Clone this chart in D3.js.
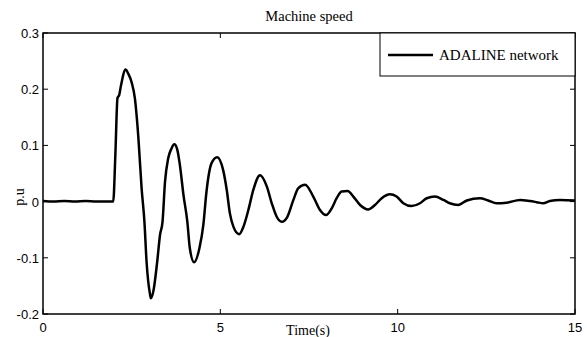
<!DOCTYPE html>
<html>
<head>
<meta charset="utf-8">
<script src="https://cdn.jsdelivr.net/npm/d3@7"></script>
<style>
  body { margin: 0; background: #fff; }
  svg text { fill: #000; }
</style>
</head>
<body>
<div id="chart-area"></div>
<script>
// Data
var timeValues = [0, 0.3, 0.6, 0.9, 1.2, 1.5, 1.8, 1.98, 2.04, 2.1, 2.15, 2.2, 2.33, 2.4, 2.5, 2.59, 2.69, 2.78, 2.86, 2.92, 3.02, 3.04, 3.11, 3.22, 3.3, 3.37, 3.44, 3.53, 3.62, 3.7, 3.78, 3.86, 3.96, 4.07, 4.14, 4.26, 4.41, 4.52, 4.61, 4.75, 4.91, 5.08, 5.18, 5.27, 5.37, 5.53, 5.65, 5.79, 5.93, 6.12, 6.31, 6.45, 6.59, 6.73, 6.89, 7.06, 7.2, 7.39, 7.62, 7.81, 7.98, 8.14, 8.28, 8.42, 8.59, 8.75, 8.94, 9.17, 9.36, 9.55, 9.78, 9.97, 10.16, 10.39, 10.63, 10.82, 11.05, 11.29, 11.47, 11.71, 11.95, 12.32, 12.55, 12.79, 13.07, 13.45, 13.73, 13.92, 14.1, 14.29, 14.58, 15];
var speedValues = [0.001, 0, 0.001, 0, 0.001, 0, 0, 0, 0.083, 0.184, 0.19, 0.207, 0.235, 0.228, 0.212, 0.184, 0.113, 0.024, -0.036, -0.107, -0.166, -0.172, -0.16, -0.107, -0.059, -0.036, 0.035, 0.077, 0.094, 0.102, 0.094, 0.065, 0.012, -0.036, -0.083, -0.108, -0.083, -0.042, 0.018, 0.068, 0.079, 0.056, 0.021, -0.021, -0.045, -0.058, -0.045, -0.015, 0.021, 0.047, 0.027, -0.003, -0.027, -0.036, -0.027, 0.003, 0.024, 0.03, 0.009, -0.015, -0.024, -0.012, 0.006, 0.018, 0.019, 0.009, -0.006, -0.014, -0.006, 0.006, 0.013, 0.009, -0.003, -0.008, -0.003, 0.006, 0.009, 0.003, -0.003, -0.006, 0.002, 0.006, 0.002, -0.003, -0.002, 0.003, 0.001, -0.001, -0.003, 0.001, 0.003, 0.002];
var xTicks = [0, 5, 10, 15];
var yTicks = [-0.2, -0.1, 0, 0.1, 0.2, 0.3];
var chartTitle = "Machine speed";
var xLabel = "Time(s)";
var yLabel = "p.u";
var seriesName = "ADALINE network";

var width = 587, height = 337;
var margin = { left: 43, right: 12, top: 33, bottom: 23 };

var svg = d3.select("#chart-area")
    .append("svg")
    .attr("width", width)
    .attr("height", height);

// SCALES
var x = d3.scaleLinear()
    .domain([0, 15])
    .range([margin.left, width - margin.right]);

var y = d3.scaleLinear()
    .domain([-0.2, 0.3])
    .range([height - margin.bottom, margin.top]);

var sansFont = "Liberation Sans, Arial, sans-serif";
var serifFont = "Liberation Serif, Times New Roman, serif";

// ticks pointing inward on all four sides
var tickLen = 5;
xTicks.forEach(function (t) {
    svg.append("line").attr("x1", x(t)).attr("x2", x(t))
        .attr("y1", y(-0.2)).attr("y2", y(-0.2) - tickLen)
        .attr("stroke", "#000").attr("stroke-width", 1);
    svg.append("line").attr("x1", x(t)).attr("x2", x(t))
        .attr("y1", y(0.3)).attr("y2", y(0.3) + tickLen)
        .attr("stroke", "#000").attr("stroke-width", 1);
    svg.append("text").attr("x", x(t)).attr("y", y(-0.2) + 18)
        .attr("text-anchor", "middle")
        .style("font-family", sansFont).style("font-size", "13px")
        .text(t);
});
yTicks.forEach(function (v) {
    svg.append("line").attr("x1", x(0)).attr("x2", x(0) + tickLen)
        .attr("y1", y(v)).attr("y2", y(v))
        .attr("stroke", "#000").attr("stroke-width", 1);
    svg.append("line").attr("x1", x(15)).attr("x2", x(15) - tickLen)
        .attr("y1", y(v)).attr("y2", y(v))
        .attr("stroke", "#000").attr("stroke-width", 1);
    svg.append("text").attr("x", x(0) - 4).attr("y", y(v) + 5)
        .attr("text-anchor", "end")
        .style("font-family", sansFont).style("font-size", "13px")
        .text(v);
});

// the curve
var line = d3.line()
    .x(function (d, i) { return x(timeValues[i]); })
    .y(function (d) { return y(d); })
    .curve(d3.curveMonotoneX);

svg.append("path")
    .datum(speedValues)
    .attr("d", line)
    .attr("fill", "none")
    .attr("stroke", "#000")
    .attr("stroke-width", 2.5)
    .attr("stroke-linejoin", "round");

// axes box
svg.append("rect")
    .attr("x", x(0)).attr("y", y(0.3))
    .attr("width", x(15) - x(0)).attr("height", y(-0.2) - y(0.3))
    .attr("fill", "none").attr("stroke", "#000").attr("stroke-width", 1.5);

// legend
var lg = svg.append("g");
lg.append("rect")
    .attr("x", 380).attr("y", y(0.3))
    .attr("width", x(15) - 380).attr("height", 43)
    .attr("fill", "#fff").attr("stroke", "#000").attr("stroke-width", 1);
lg.append("line").attr("x1", 388).attr("x2", 433).attr("y1", 55).attr("y2", 55)
    .attr("stroke", "#000").attr("stroke-width", 2.5);
lg.append("text").attr("x", 439).attr("y", 60)
    .style("font-family", serifFont).style("font-size", "15px")
    .text(seriesName);

// titles
svg.append("text").attr("x", 309).attr("y", 21)
    .attr("text-anchor", "middle")
    .style("font-family", serifFont).style("font-size", "14.5px")
    .text(chartTitle);
svg.append("text").attr("x", 308).attr("y", 335)
    .attr("text-anchor", "middle")
    .style("font-family", serifFont).style("font-size", "14px")
    .text(xLabel);
svg.append("text")
    .attr("transform", "translate(24,197) rotate(-90)")
    .attr("text-anchor", "middle")
    .style("font-family", serifFont).style("font-size", "14px")
    .text(yLabel);
</script>
</body>
</html>
